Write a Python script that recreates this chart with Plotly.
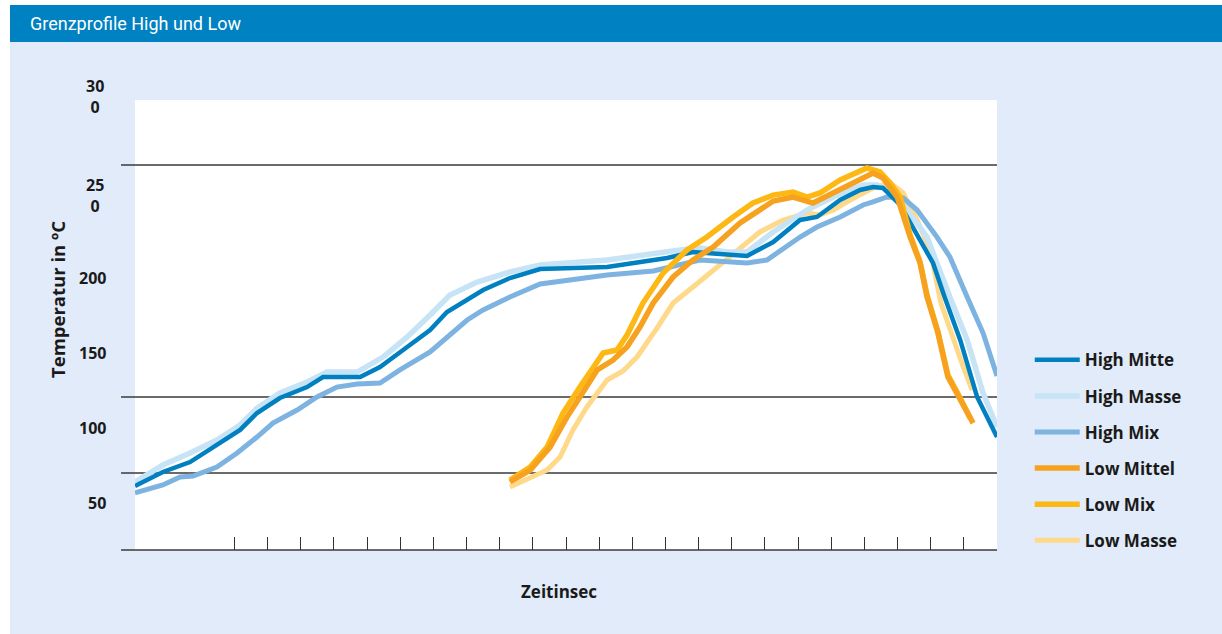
import plotly.graph_objects as go

# ---------------- data (x in tick intervals of the time axis, y in °C) ----------------
high_mitte_x = [0, 0.84, 1.66, 2.47, 3.17, 3.68, 4.37, 5.19, 5.67, 6.79, 7.39, 8.21, 8.90, 9.41, 9.89,
                10.50, 11.31, 12.22, 14.24, 16.05, 16.83, 17.86, 18.46, 19.25, 20.06, 20.57, 21.27,
                21.87, 22.26, 22.56, 23.08, 23.68, 24.07, 24.43, 24.89, 25.40, 26.0]
high_mitte_y = [61.3, 70.7, 77.3, 88.7, 98.7, 110.0, 120.0, 127.3, 134.0, 134.0, 140.7, 154.0, 165.3,
                177.3, 184.0, 192.0, 200.0, 206.0, 207.3, 213.3, 217.3, 216.0, 214.7, 224.0, 238.7,
                240.7, 252.0, 258.7, 260.7, 260.0, 248.7, 225.3, 210.0, 186.7, 158.7, 120.7, 94.0]

high_masse_x = [0, 0.84, 1.66, 2.47, 3.17, 3.68, 4.37, 5.19, 5.79, 6.70, 7.48, 8.21, 8.90, 9.50, 10.32,
                11.31, 12.22, 14.24, 16.44, 17.04, 17.86, 18.46, 19.25, 20.27, 21.06, 21.96, 22.38,
                22.87, 23.29, 23.89, 24.58, 25.10, 25.58, 26.0]
high_masse_y = [64.0, 75.3, 83.3, 92.0, 102.0, 113.3, 123.3, 130.7, 137.3, 137.3, 147.3, 160.7, 175.3,
                188.7, 197.3, 204.0, 208.7, 212.0, 218.7, 220.0, 217.3, 217.3, 230.7, 245.3, 254.0,
                262.0, 262.0, 256.7, 245.3, 227.3, 187.3, 158.7, 123.3, 100.7]

high_mix_x = [0, 0.84, 1.36, 1.75, 2.47, 3.08, 3.68, 4.16, 4.89, 5.49, 6.09, 6.70, 7.39, 7.99, 8.90,
              9.41, 10.02, 10.50, 11.31, 12.22, 13.21, 14.24, 15.63, 17.04, 18.46, 19.06, 20.06, 20.57,
              21.27, 21.96, 22.26, 22.68, 23.17, 23.59, 24.19, 24.58, 25.10, 25.58, 26.0]
high_mix_y = [56.7, 62.0, 67.3, 68.0, 74.0, 83.3, 94.0, 103.3, 112.0, 120.7, 127.3, 129.3, 130.0, 138.7,
              150.7, 160.7, 172.0, 178.7, 187.3, 196.0, 198.7, 202.0, 204.7, 212.0, 210.0, 212.0, 227.3,
              234.0, 240.7, 248.7, 250.7, 254.0, 253.3, 245.3, 227.3, 214.0, 187.3, 163.3, 134.7]

low_mittel_x = [11.31, 11.92, 12.52, 13.03, 13.42, 13.94, 14.42, 14.84, 15.23, 15.63, 16.23, 16.83, 17.44,
                18.25, 19.25, 19.85, 20.45, 21.06, 21.78, 22.26, 22.56, 22.99, 23.38, 23.68, 23.89,
                24.22, 24.52, 24.89, 25.28]
low_mittel_y = [64.0, 72.0, 87.3, 107.3, 120.7, 138.7, 145.3, 154.0, 167.3, 183.3, 200.7, 212.0, 220.7,
                236.7, 251.3, 254.0, 250.0, 256.7, 265.3, 270.0, 266.7, 254.0, 227.3, 210.0, 187.3,
                163.3, 134.0, 118.7, 103.3]

low_mix_x = [11.31, 11.92, 12.43, 12.91, 13.42, 14.12, 14.54, 14.84, 15.32, 15.93, 16.65, 17.25, 18.04,
             18.64, 19.25, 19.85, 20.27, 20.66, 21.27, 22.08, 22.47, 22.78, 23.08, 23.38, 23.68, 23.89,
             24.22, 24.52, 24.89, 25.19]
low_mix_y = [65.3, 74.0, 87.3, 110.0, 127.3, 150.0, 152.0, 162.0, 183.3, 203.3, 218.7, 227.3, 240.7,
             250.0, 255.3, 257.3, 254.0, 256.7, 265.3, 273.3, 270.7, 263.3, 254.0, 228.7, 210.7, 188.7,
             164.0, 135.3, 120.0, 106.7]

low_masse_x = [11.31, 11.92, 12.43, 12.82, 13.21, 13.63, 14.24, 14.72, 15.14, 15.75, 16.23, 16.83, 17.56,
               18.25, 18.85, 19.55, 20.27, 20.66, 21.06, 21.57, 22.26, 22.78, 23.17, 23.59, 23.98,
               24.31, 24.68, 24.98, 25.25]
low_masse_y = [60.7, 67.3, 72.0, 80.7, 98.7, 114.0, 132.0, 138.0, 147.3, 166.7, 183.3, 194.0, 207.3,
               220.7, 230.7, 238.7, 243.3, 242.0, 245.3, 252.0, 260.0, 263.3, 256.7, 238.7, 218.7,
               183.3, 158.7, 140.7, 125.3]

x_tick_vals = list(range(3, 26))
y_label_vals = [50, 100, 150, 200]
y_label_text = ["50", "100", "150", "200"]
y_wrapped_vals = [255.3, 320.7]
y_wrapped_text = ["25<br>0", "30<br>0"]
grid_vals = [70.0, 120.7, 275.3]

# ---------------- styling ----------------
FONT = "Open Sans, Lato, sans-serif"
TITLE_FONT = "Roboto, Liberation Sans, sans-serif"
PANEL = "#E1EBF9"
BAR = "#0081C1"
Y0, Y1 = 18.67, 318.67


def ypaper(v):
    return (v - Y0) / (Y1 - Y0)


series = [
    # (name, x, y, color, width, legendrank) in drawing order
    ("Low Masse", low_masse_x, low_masse_y, "#FFD98A", 5, 6),
    ("High Masse", high_masse_x, high_masse_y, "#C6E4F5", 5.5, 2),
    ("High Mix", high_mix_x, high_mix_y, "#7DB3E0", 5, 3),
    ("High Mitte", high_mitte_x, high_mitte_y, "#0080C0", 4.5, 1),
    ("Low Mix", low_mix_x, low_mix_y, "#FDB813", 5.5, 5),
    ("Low Mittel", low_mittel_x, low_mittel_y, "#F7A21E", 5.5, 4),
]

fig = go.Figure()
for name, xs, ys, col, w, rank in series:
    fig.add_trace(go.Scatter(
        x=xs, y=ys, mode="lines", name=f"<b>{name}</b>",
        line=dict(color=col, width=w),
        legendrank=rank, legendgroup=name,
        hoverinfo="skip",
    ))

fig.update_xaxes(range=[0, 26], tickvals=x_tick_vals, ticks="inside", ticklen=13,
                 tickcolor="#333333", tickwidth=1, showticklabels=False,
                 showgrid=False, zeroline=False, showline=False)
fig.update_yaxes(range=[Y0, Y1], showticklabels=False, ticks="", showgrid=False,
                 zeroline=False, showline=False)

shapes = [
    dict(type="rect", xref="paper", yref="paper", x0=-0.2, x1=-0.145, y0=-0.3, y1=1.3,
         fillcolor="white", line_width=0, layer="below"),
    dict(type="rect", xref="paper", yref="paper", x0=-0.2, x1=1.3, y0=1.2111, y1=1.3,
         fillcolor="white", line_width=0, layer="below"),
    dict(type="rect", xref="paper", yref="paper", x0=-0.145, x1=1.3, y0=1.1289, y1=1.2111,
         fillcolor=BAR, line_width=0, layer="below"),
]
for g in grid_vals:
    shapes.append(dict(type="line", xref="paper", yref="y", x0=-0.0162, x1=1.0, y0=g, y1=g,
                       line=dict(color="#3a3a3a", width=1.4), layer="below"))
shapes.append(dict(type="line", xref="paper", yref="paper", x0=-0.0162, x1=1.0, y0=0, y1=0,
                   line=dict(color="#3a3a3a", width=1.6), layer="above"))

annotations = [
    dict(text="Grenzprofile High und Low", xref="paper", yref="paper", x=-0.1241, y=1.17,
         xanchor="left", yanchor="middle", showarrow=False,
         font=dict(family=TITLE_FONT, size=18, color="white")),
    dict(text="<b>Temperatur in ºC</b>", xref="paper", yref="paper", x=-0.0893, y=0.5556,
         textangle=-90, xanchor="center", yanchor="middle", showarrow=False,
         font=dict(family=FONT, size=18.5, color="#1a1a1a")),
    dict(text="<b>Zeitinsec</b>", xref="paper", yref="paper", x=0.4919, y=-0.0933,
         xanchor="center", yanchor="middle", showarrow=False,
         font=dict(family=FONT, size=17, color="#1a1a1a")),
]
for v, t in zip(y_label_vals, y_label_text):
    annotations.append(dict(text=f"<b>{t}</b>", xref="paper", yref="paper", x=-0.0313, y=ypaper(v),
                            xanchor="right", yanchor="middle", showarrow=False,
                            font=dict(family=FONT, size=16, color="#1a1a1a")))
for v, t in zip(y_wrapped_vals, y_wrapped_text):
    annotations.append(dict(text=f"<b>{t}</b>", xref="paper", yref="paper", x=-0.0464, y=ypaper(v),
                            xanchor="center", yanchor="middle", align="center", showarrow=False,
                            font=dict(family=FONT, size=16, color="#1a1a1a")))

fig.update_layout(
    width=1222, height=634,
    margin=dict(l=135, r=225, t=100, b=84),
    paper_bgcolor=PANEL, plot_bgcolor="white",
    shapes=shapes, annotations=annotations,
    showlegend=True,
    legend=dict(x=1.038, y=0.4617, xanchor="left", yanchor="top",
                bgcolor="rgba(0,0,0,0)", borderwidth=0, tracegroupgap=11,
                font=dict(family=FONT, size=17, color="#1a1a1a"),
                traceorder="grouped", itemwidth=45),
)

fig.write_html("out.html", config={"displayModeBar": False},
               post_script="document.body.style.margin='0';")
